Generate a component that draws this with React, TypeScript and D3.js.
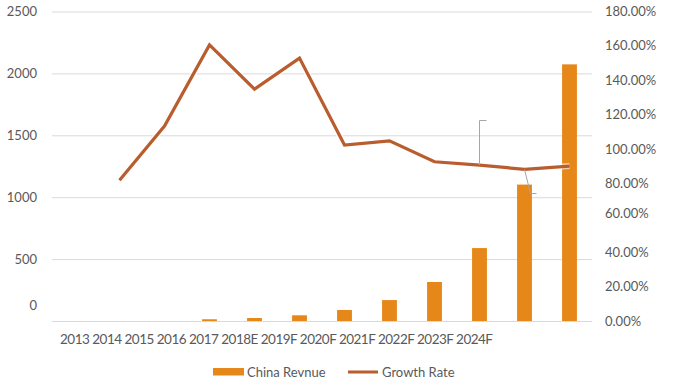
import React from "react";
import * as d3 from "d3";

const categories = ["2013","2014","2015","2016","2017","2018E","2019F","2020F","2021F","2022F","2023F","2024F"];
const revenue: (number | null)[] = [null, null, null, 14, 24, 46, 89, 169, 315, 589, 1102, 2073];
const growth: (number | null)[] = [null, 0.819, 1.134, 1.606, 1.348, 1.529, 1.023, 1.048, 0.926, 0.907, 0.882, 0.901];
const leftTicks = [0, 500, 1000, 1500, 2000, 2500];
const rightTicks = [0, 0.2, 0.4, 0.6, 0.8, 1.0, 1.2, 1.4, 1.6, 1.8];

const W = 687, H = 385;
const M = { left: 52, right: 95, top: 11.5, bottom: 64 };
const FONT = "Lato, 'Open Sans', sans-serif";
const TEXT = "#595959";
const BAR = "#E6871A";
const LINE = "#BA5D2E";
const FS = 13;

export default function App() {
  const x = d3.scaleBand<number>().domain(d3.range(categories.length)).range([M.left, W - M.right]).paddingInner(0.67).paddingOuter(0.335);
  const yL = d3.scaleLinear().domain([0, 2500]).range([H - M.bottom, M.top]);
  const yR = d3.scaleLinear().domain([0, 1.8]).range([H - M.bottom, M.top]);
  const cx = (i: number) => (x(i) as number) + x.bandwidth() / 2;

  const line = d3.line<number | null>()
    .defined((d) => d != null)
    .x((_, i) => cx(i))
    .y((d) => yR(d as number));

  const fmtPct = (v: number) => (v * 100).toFixed(2) + "%";

  const p9 = { x: cx(9), y: yR(growth[9] as number) };
  const p10 = { x: cx(10), y: yR(growth[10] as number) };

  return (
    <svg width={W} height={H} style={{ position: "absolute", left: 0, top: 0, background: "#fff" }} fontFamily={FONT}>
      {leftTicks.map((t) => (
        <line key={"g" + t} x1={M.left} x2={W - M.right} y1={yL(t) + 0.5} y2={yL(t) + 0.5} stroke="#D9D9D9" strokeWidth={1} />
      ))}
      {leftTicks.map((t) => (
        <text key={"l" + t} x={37} y={yL(t) - (t === 0 ? 16 : 0)} dy="0.35em" textAnchor="end" fontSize={FS} fill={TEXT}>{t}</text>
      ))}
      {rightTicks.map((t) => (
        <text key={"r" + t} x={605} y={yR(t) + (Math.abs(t - 0.6) < 1e-9 ? -4 : 0)} dy="0.35em" textAnchor="start" fontSize={FS} fill={TEXT}>{fmtPct(t)}</text>
      ))}
      {revenue.map((v, i) => v == null ? null : (
        <rect key={"b" + i} x={x(i)} y={yL(v)} width={x.bandwidth()} height={yL(0) - yL(v)} fill={BAR} />
      ))}
      <path d={line(growth) || ""} fill="none" stroke="#fff" strokeOpacity={0.6} strokeWidth={6} strokeLinejoin="miter" />
      <path d={line(growth) || ""} fill="none" stroke={LINE} strokeWidth={3.2} strokeLinejoin="miter" />
      <path d={`M${p9.x},${p9.y} L${p9.x},120.5 L${p9.x + 7},120.5`} fill="none" stroke="#A6A6A6" strokeWidth={1} />
      <path d={`M${p10.x},${p10.y} L${p10.x + 6},193.5 L${p10.x + 12},193.5`} fill="none" stroke="#A6A6A6" strokeWidth={1} />
      <text x={60} y={339} dy="0.35em" fontSize={13.5} fill={TEXT} textLength={433} lengthAdjust="spacing">{categories.join(" ")}</text>
      <rect x={213} y={368} width={31} height={7.5} fill={BAR} />
      <text x={247} y={372} dy="0.35em" fontSize={FS} fill={TEXT}>China Revnue</text>
      <line x1={348} x2={378} y1={372} y2={372} stroke={LINE} strokeWidth={3} />
      <text x={382} y={372} dy="0.35em" fontSize={FS} fill={TEXT}>Growth Rate</text>
    </svg>
  );
}
